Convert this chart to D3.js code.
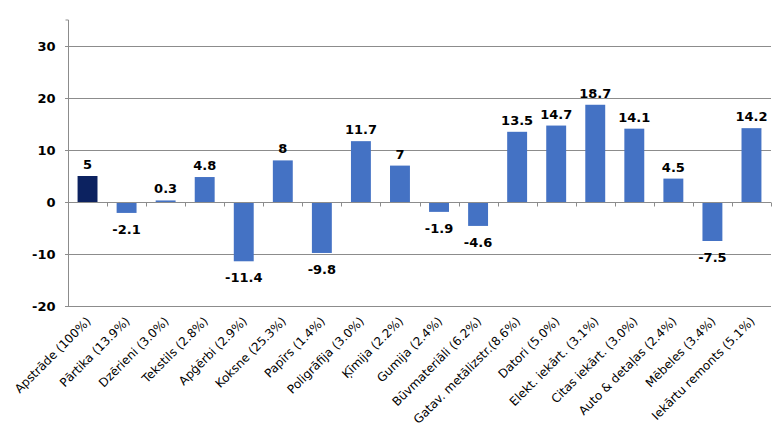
<!DOCTYPE html>
<html><head><meta charset="utf-8">
<script src="https://cdn.jsdelivr.net/npm/d3@7"></script>
<style>body{margin:0;background:#fff}</style>
</head><body>
<script>
const categories = ["Apstrāde (100%)","Pārtika (13.9%)","Dzērieni (3.0%)","Tekstils (2.8%)","Apģērbi (2.9%)","Koksne (25.3%)","Papīrs (1.4%)","Poligrāfija (3.0%)","Ķīmija (2.2%)","Gumija (2.4%)","Būvmateriāli (6.2%)","Gatav. metālizstr.(8.6%)","Datori (5.0%)","Elekt. iekārt. (3.1%)","Citas iekārt. (3.0%)","Auto & detaļas (2.4%)","Mēbeles (3.4%)","Iekārtu remonts (5.1%)"];
const values = [5,-2.1,0.3,4.8,-11.4,8,-9.8,11.7,7,-1.9,-4.6,13.5,14.7,18.7,14.1,4.5,-7.5,14.2];
const yTicks = [-20,-10,0,10,20,30];

const W=781,H=435;
const m={l:68,r:10,t:20,b:128};
const svg=d3.select("body").append("svg").attr("width",W).attr("height",H);
const x=d3.scaleBand().domain(categories).range([m.l,771]).paddingInner(0.49).paddingOuter(0.245);
const y=d3.scaleLinear().domain([-20,35]).range([306, 306-52*5.5]);
const font="Verdana, 'DejaVu Sans', sans-serif";
const fmt=d=>String(d);

// gridlines
svg.append("g").selectAll("line").data(yTicks.filter(d=>d!==0)).join("line")
  .attr("x1",m.l-3).attr("x2",771).attr("y1",d=>Math.round(y(d))+0.5).attr("y2",d=>Math.round(y(d))+0.5)
  .attr("stroke","#8c8c8c").attr("stroke-width",1);
// y axis
const ya=svg.append("g").attr("transform",`translate(${m.l+0.5},0)`)
  .call(d3.axisLeft(y).tickValues(yTicks).tickSize(3).tickPadding(10).tickFormat(fmt));
ya.select(".domain").attr("stroke","#8c8c8c").attr("d",`M-3,${y(35)}H0V${Math.round(y(-20))+0.5}`);
ya.selectAll(".tick line").attr("stroke","#8c8c8c");
ya.selectAll("text").attr("font-family",font).attr("font-size",13).attr("font-weight","bold").attr("fill","#000");

// bars
svg.append("g").selectAll("rect").data(values).join("rect")
  .attr("x",(d,i)=>x(categories[i]))
  .attr("width",x.bandwidth())
  .attr("y",d=>y(Math.max(0,d)))
  .attr("height",d=>Math.abs(y(d)-y(0)))
  .attr("fill",(d,i)=>i===0?"#0c2260":"#4472c4");

// x axis at zero
const y0=Math.round(y(0))+0.5;
svg.append("line").attr("x1",m.l-3).attr("x2",771).attr("y1",y0).attr("y2",y0).attr("stroke","#8c8c8c");
const bounds=d3.range(1,categories.length+1).map(i=>m.l+i*(771-m.l)/categories.length);
svg.append("g").selectAll("line").data(bounds).join("line")
  .attr("x1",d=>Math.round(d)+0.5).attr("x2",d=>Math.round(d)+0.5).attr("y1",y0).attr("y2",y0+4)
  .attr("stroke","#8c8c8c");

// value labels
svg.append("g").selectAll("text").data(values).join("text")
  .attr("x",(d,i)=>x(categories[i])+x.bandwidth()/2)
  .attr("y",d=>d>=0?y(d)-7:y(d)+21)
  .attr("text-anchor","middle")
  .attr("font-family",font).attr("font-size",13).attr("font-weight","bold").attr("fill","#000")
  .text(fmt);

// category labels
svg.append("g").selectAll("text").data(categories).join("text")
  .attr("transform",d=>`translate(${x(d)+x.bandwidth()/2+4},${322}) rotate(-45)`)
  .attr("text-anchor","end")
  .attr("font-family",font).attr("font-size",12).attr("fill","#000")
  .text(d=>d);
</script>
</body></html>
